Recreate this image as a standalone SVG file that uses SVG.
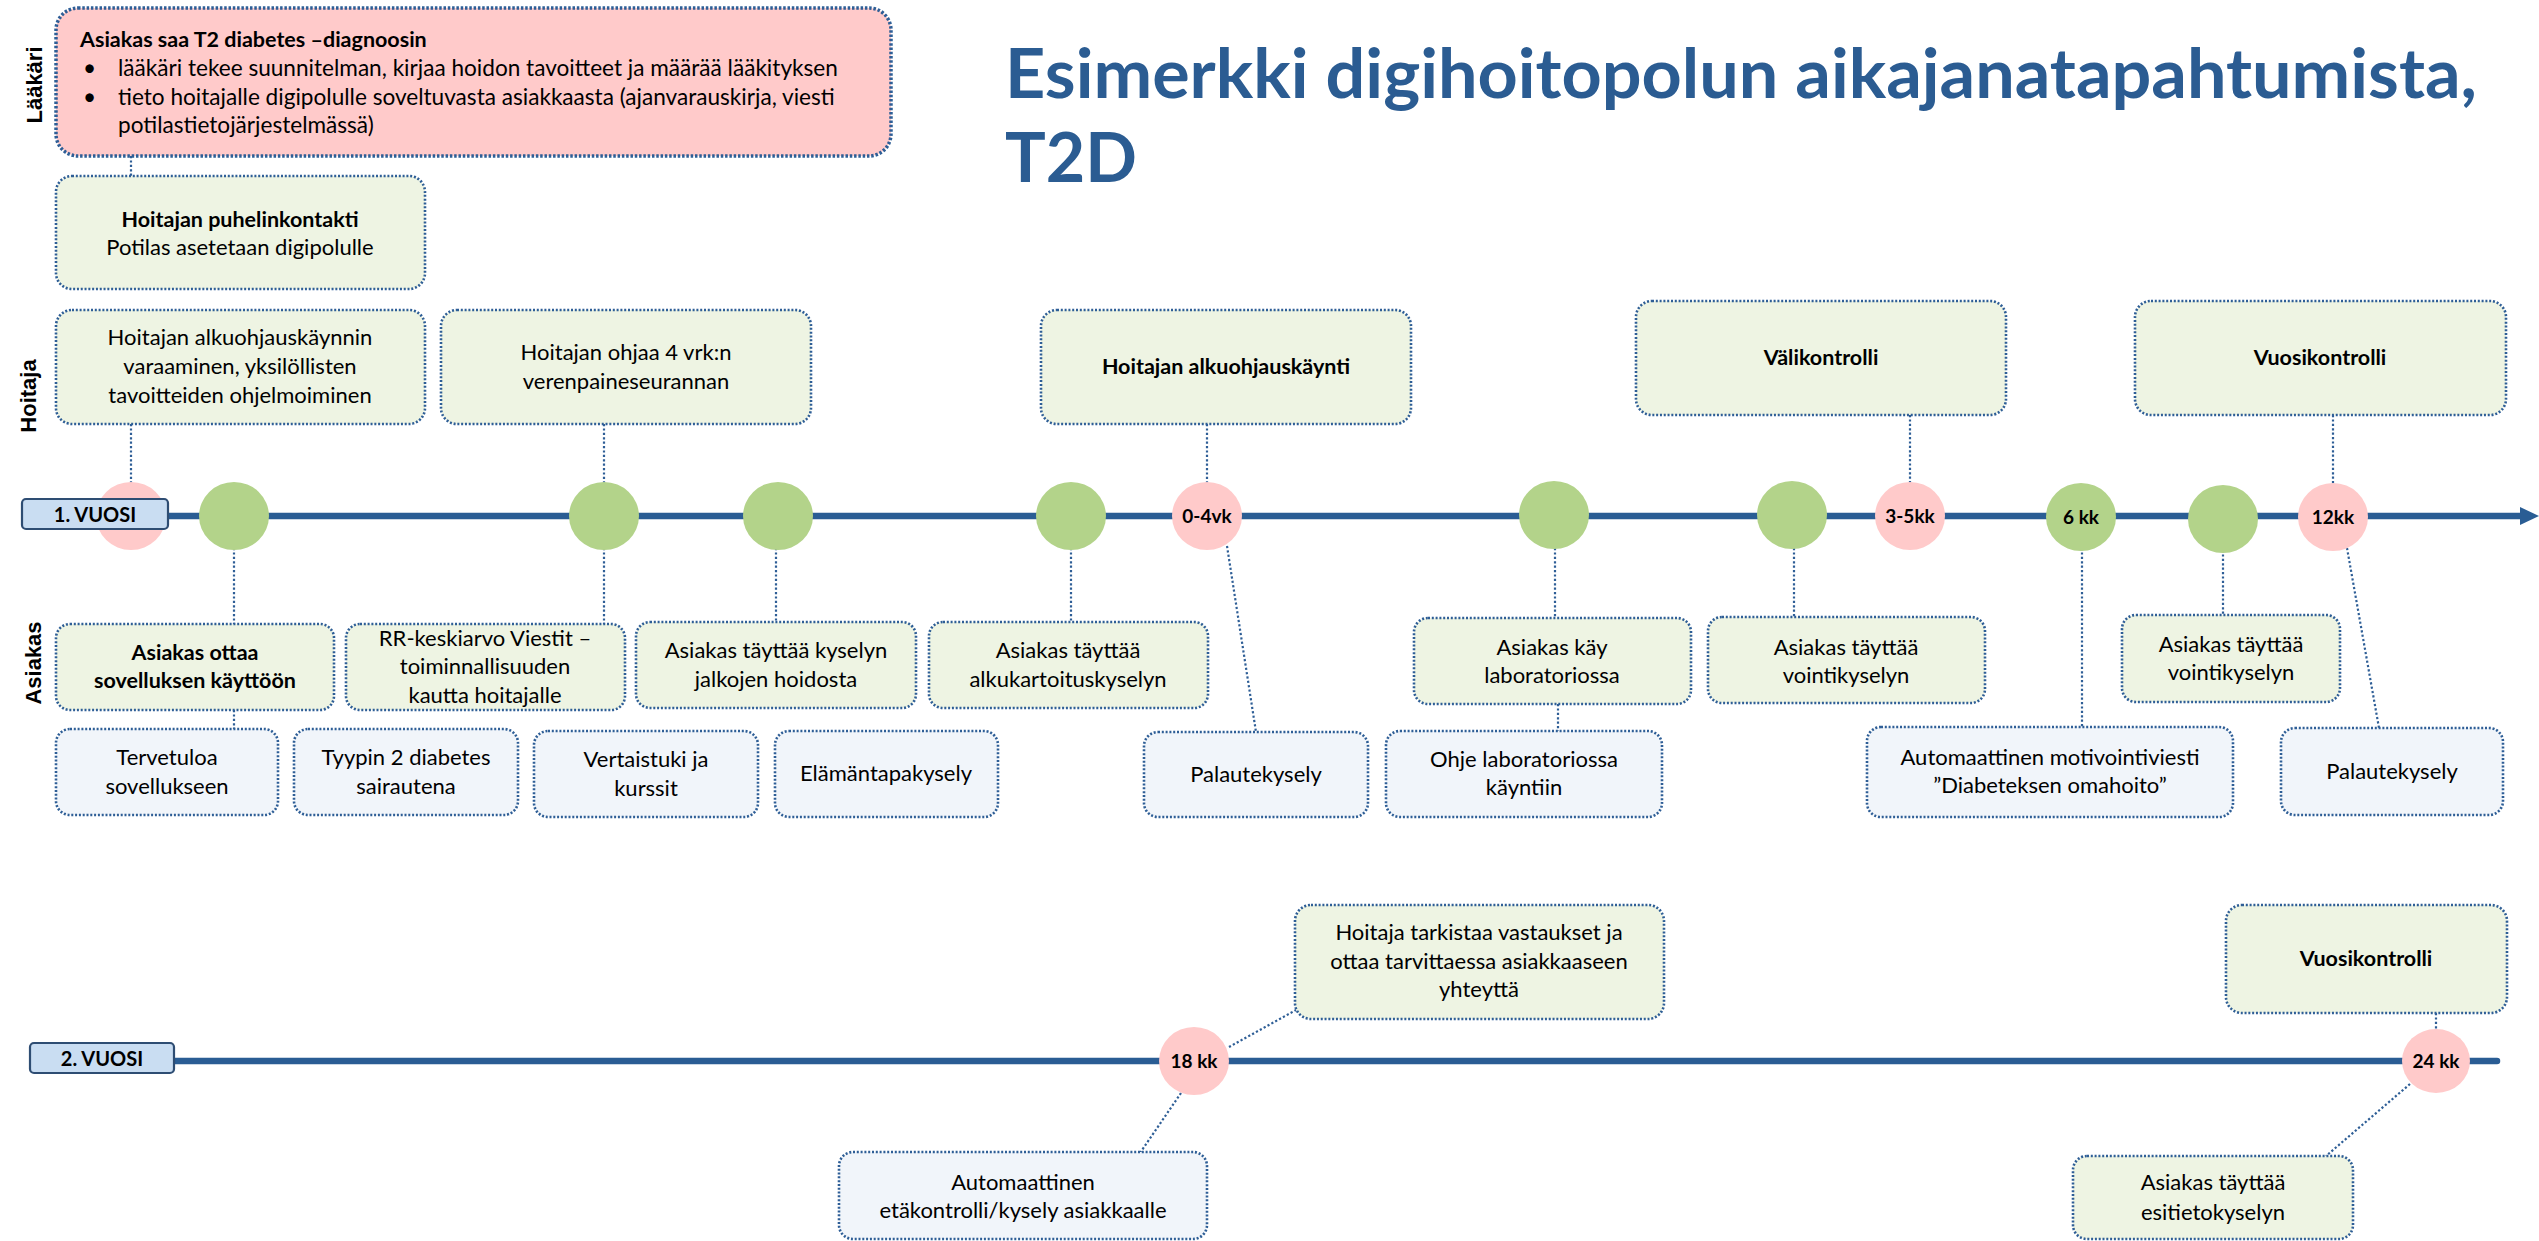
<svg xmlns="http://www.w3.org/2000/svg" width="2539" height="1241" viewBox="0 0 2539 1241">
<style>
.bg{fill:#FFFFFF}
.g{fill:#EEF4E3;stroke:#2E5E96;stroke-width:2.6;stroke-dasharray:2 1.8}
.b{fill:#F1F5FA;stroke:#2E5E96;stroke-width:2.6;stroke-dasharray:2 1.8}
.p{fill:#FFCACA;stroke:#2E5E96;stroke-width:3.5;stroke-dasharray:2.5 1.8}
.c{fill:none;stroke:#2E5E96;stroke-width:2.2;stroke-dasharray:2.2 2.2}
.tl{stroke:#2A5D94;stroke-width:6.5;fill:none}
.cg{fill:#B3D38A}
.cp{fill:#FFCACA}
.lab{fill:#C9DDF2;stroke:#2E4D73;stroke-width:2.2}
.t{font-family:Lato,"Liberation Sans",sans-serif;font-size:22px;fill:#000;text-anchor:middle}
.tb{font-family:Lato,"Liberation Sans",sans-serif;font-size:21.5px;fill:#000;text-anchor:middle;font-weight:bold}
.tl2{font-family:Lato,"Liberation Sans",sans-serif;font-size:22.6px;fill:#000}
.tl2b{font-family:Lato,"Liberation Sans",sans-serif;font-size:21.5px;fill:#000;font-weight:bold}
.m{font-family:Lato,"Liberation Sans",sans-serif;font-size:19px;fill:#000;text-anchor:middle;font-weight:bold}
.side{font-family:"Liberation Sans",Arial,sans-serif;font-size:22px;font-weight:bold;fill:#000;text-anchor:middle}
.title{font-family:Lato,"Liberation Sans",sans-serif;font-size:68px;font-weight:bold;fill:#2B5C92}
</style>
<rect class="bg" x="0" y="0" width="2539" height="1241"/>

<g id="title">
<text class="title" x="1005" y="98" textLength="1472" lengthAdjust="spacingAndGlyphs">Esimerkki digihoitopolun aikajanatapahtumista,</text>
<text class="title" x="1005" y="182">T2D</text>
</g>

<g id="lanes">
<text class="side" transform="translate(42,85) rotate(-90)">Lääkäri</text>
<text class="side" transform="translate(36,396) rotate(-90)">Hoitaja</text>
<text class="side" transform="translate(41,663) rotate(-90)">Asiakas</text>
</g>

<g id="connectors">
<line class="c" x1="131" y1="156" x2="131" y2="176"/>
<line class="c" x1="131" y1="424" x2="131" y2="484"/>
<line class="c" x1="604" y1="424" x2="604" y2="484"/>
<line class="c" x1="1207" y1="424" x2="1207" y2="484"/>
<line class="c" x1="1910" y1="415" x2="1910" y2="484"/>
<line class="c" x1="2333" y1="415" x2="2333" y2="484"/>
<line class="c" x1="234" y1="548" x2="234" y2="624"/>
<line class="c" x1="234" y1="710" x2="234" y2="729"/>
<line class="c" x1="604" y1="548" x2="604" y2="624"/>
<line class="c" x1="776" y1="548" x2="776" y2="622"/>
<line class="c" x1="1071" y1="548" x2="1071" y2="622"/>
<line class="c" x1="1227" y1="546" x2="1256" y2="732"/>
<line class="c" x1="1555" y1="548" x2="1555" y2="618"/>
<line class="c" x1="1558" y1="704" x2="1558" y2="731"/>
<line class="c" x1="1794" y1="548" x2="1794" y2="617"/>
<line class="c" x1="2082" y1="548" x2="2082" y2="727"/>
<line class="c" x1="2223" y1="550" x2="2223" y2="615"/>
<line class="c" x1="2347" y1="548" x2="2379" y2="728"/>
<line class="c" x1="1229" y1="1047" x2="1296" y2="1010"/>
<line class="c" x1="1181" y1="1093" x2="1140" y2="1153"/>
<line class="c" x1="2436" y1="1013" x2="2436" y2="1031"/>
<line class="c" x1="2410" y1="1084" x2="2326" y2="1156"/>
</g>

<g id="timeline1">
<line class="tl" x1="150" y1="516" x2="2523" y2="516"/>
<polygon points="2520,507 2539,516 2520,525" fill="#2A5D94"/>
</g>
<g id="timeline2">
<line class="tl" x1="160" y1="1061" x2="2497" y2="1061" stroke-linecap="round"/>
</g>

<g id="m_start"><ellipse class="cp" cx="131" cy="516" rx="35" ry="34"/></g>
<g id="label1"><rect class="lab" x="22" y="499" width="146" height="30" rx="4"/><text class="m" x="95" y="522" style="font-size:20px">1. VUOSI</text></g>
<g id="m_g1"><ellipse class="cg" cx="234" cy="516" rx="35" ry="34"/></g>
<g id="m_g2"><ellipse class="cg" cx="604" cy="516" rx="35" ry="34"/></g>
<g id="m_g3"><ellipse class="cg" cx="778" cy="516" rx="35" ry="34"/></g>
<g id="m_g4"><ellipse class="cg" cx="1071" cy="516" rx="35" ry="34"/></g>
<g id="m_04vk"><ellipse class="cp" cx="1207" cy="516" rx="35" ry="34"/><text class="m" x="1207" y="523">0-4vk</text></g>
<g id="m_g5"><ellipse class="cg" cx="1554" cy="515" rx="35" ry="34"/></g>
<g id="m_g6"><ellipse class="cg" cx="1792" cy="515" rx="35" ry="34"/></g>
<g id="m_35kk"><ellipse class="cp" cx="1910" cy="516" rx="35" ry="34"/><text class="m" x="1910" y="523">3-5kk</text></g>
<g id="m_6kk"><ellipse class="cg" cx="2081" cy="517" rx="35" ry="34"/><text class="m" x="2081" y="524">6 kk</text></g>
<g id="m_g7"><ellipse class="cg" cx="2223" cy="519" rx="35" ry="34"/></g>
<g id="m_12kk"><ellipse class="cp" cx="2333" cy="517" rx="35" ry="34"/><text class="m" x="2333" y="524">12kk</text></g>

<g id="label2"><rect class="lab" x="30" y="1043" width="144" height="30" rx="4"/><text class="m" x="102" y="1066" style="font-size:20px">2. VUOSI</text></g>
<g id="m_18kk"><ellipse class="cp" cx="1194" cy="1061" rx="35" ry="34"/><text class="m" x="1194" y="1068">18 kk</text></g>
<g id="m_24kk"><ellipse class="cp" cx="2436" cy="1061" rx="34" ry="32"/><text class="m" x="2436" y="1068">24 kk</text></g>

<g id="n_laakari">
<rect class="p" x="56" y="8" width="835" height="148" rx="22"/>
<text class="tl2b" x="80" y="47">Asiakas saa T2 diabetes –diagnoosin</text>
<text class="tl2" x="83" y="76">•</text><text class="tl2" x="118" y="76">lääkäri tekee suunnitelman, kirjaa hoidon tavoitteet ja määrää lääkityksen</text>
<text class="tl2" x="83" y="105">•</text><text class="tl2" x="118" y="105">tieto hoitajalle digipolulle soveltuvasta asiakkaasta (ajanvarauskirja, viesti</text>
<text class="tl2" x="118" y="133">potilastietojärjestelmässä)</text>
</g>

<g id="n_puhelin">
<rect class="g" x="56" y="176" width="369" height="113" rx="16"/>
<text class="tb" x="240" y="227">Hoitajan puhelinkontakti</text>
<text class="t" x="240" y="255">Potilas asetetaan digipolulle</text>
</g>

<g id="n_varaaminen">
<rect class="g" x="56" y="310" width="369" height="114" rx="16"/>
<text class="t" x="240" y="345">Hoitajan alkuohjauskäynnin</text>
<text class="t" x="240" y="374">varaaminen, yksilöllisten</text>
<text class="t" x="240" y="403">tavoitteiden ohjelmoiminen</text>
</g>

<g id="n_seuranta">
<rect class="g" x="441" y="310" width="370" height="114" rx="16"/>
<text class="t" x="626" y="360">Hoitajan ohjaa 4 vrk:n</text>
<text class="t" x="626" y="389">verenpaineseurannan</text>
</g>

<g id="n_alkuohjaus">
<rect class="g" x="1041" y="310" width="370" height="114" rx="16"/>
<text class="tb" x="1226" y="374">Hoitajan alkuohjauskäynti</text>
</g>

<g id="n_valikontrolli">
<rect class="g" x="1636" y="301" width="370" height="114" rx="16"/>
<text class="tb" x="1821" y="365">Välikontrolli</text>
</g>

<g id="n_vuosikontrolli1">
<rect class="g" x="2135" y="301" width="371" height="114" rx="16"/>
<text class="tb" x="2320" y="365">Vuosikontrolli</text>
</g>

<g id="n_sovellus">
<rect class="g" x="56" y="624" width="278" height="86" rx="14"/>
<text class="tb" x="195" y="660">Asiakas ottaa</text>
<text class="tb" x="195" y="688">sovelluksen käyttöön</text>
</g>

<g id="n_rr">
<rect class="g" x="346" y="624" width="279" height="86" rx="14"/>
<text class="t" x="485" y="646">RR-keskiarvo Viestit –</text>
<text class="t" x="485" y="674">toiminnallisuuden</text>
<text class="t" x="485" y="703">kautta hoitajalle</text>
</g>

<g id="n_jalat">
<rect class="g" x="636" y="622" width="280" height="86" rx="14"/>
<text class="t" x="776" y="658">Asiakas täyttää kyselyn</text>
<text class="t" x="776" y="687">jalkojen hoidosta</text>
</g>

<g id="n_alkukartoitus">
<rect class="g" x="929" y="622" width="279" height="86" rx="14"/>
<text class="t" x="1068" y="658">Asiakas täyttää</text>
<text class="t" x="1068" y="687">alkukartoituskyselyn</text>
</g>

<g id="n_lab">
<rect class="g" x="1414" y="618" width="277" height="86" rx="14"/>
<text class="t" x="1552" y="655">Asiakas käy</text>
<text class="t" x="1552" y="683">laboratoriossa</text>
</g>

<g id="n_vointi1">
<rect class="g" x="1708" y="617" width="277" height="86" rx="14"/>
<text class="t" x="1846" y="655">Asiakas täyttää</text>
<text class="t" x="1846" y="683">vointikyselyn</text>
</g>

<g id="n_vointi2">
<rect class="g" x="2122" y="615" width="218" height="87" rx="14"/>
<text class="t" x="2231" y="652">Asiakas täyttää</text>
<text class="t" x="2231" y="680">vointikyselyn</text>
</g>

<g id="n_tervetuloa">
<rect class="b" x="56" y="729" width="222" height="86" rx="14"/>
<text class="t" x="167" y="765">Tervetuloa</text>
<text class="t" x="167" y="794">sovellukseen</text>
</g>

<g id="n_tyypin2">
<rect class="b" x="294" y="729" width="224" height="86" rx="14"/>
<text class="t" x="406" y="765">Tyypin 2 diabetes</text>
<text class="t" x="406" y="794">sairautena</text>
</g>

<g id="n_vertais">
<rect class="b" x="534" y="731" width="224" height="86" rx="14"/>
<text class="t" x="646" y="767">Vertaistuki ja</text>
<text class="t" x="646" y="796">kurssit</text>
</g>

<g id="n_elamantapa">
<rect class="b" x="775" y="731" width="223" height="86" rx="14"/>
<text class="t" x="886" y="781">Elämäntapakysely</text>
</g>

<g id="n_palaute1">
<rect class="b" x="1144" y="732" width="224" height="85" rx="14"/>
<text class="t" x="1256" y="782">Palautekysely</text>
</g>

<g id="n_ohje">
<rect class="b" x="1386" y="731" width="276" height="86" rx="14"/>
<text class="t" x="1524" y="767">Ohje laboratoriossa</text>
<text class="t" x="1524" y="795">käyntiin</text>
</g>

<g id="n_motivointi">
<rect class="b" x="1867" y="727" width="366" height="90" rx="14"/>
<text class="t" x="2050" y="765">Automaattinen motivointiviesti</text>
<text class="t" x="2050" y="793">”Diabeteksen omahoito”</text>
</g>

<g id="n_palaute2">
<rect class="b" x="2281" y="728" width="222" height="87" rx="14"/>
<text class="t" x="2392" y="779">Palautekysely</text>
</g>

<g id="n_tarkistaa">
<rect class="g" x="1295" y="905" width="369" height="114" rx="16"/>
<text class="t" x="1479" y="940">Hoitaja tarkistaa vastaukset ja</text>
<text class="t" x="1479" y="969">ottaa tarvittaessa asiakkaaseen</text>
<text class="t" x="1479" y="997">yhteyttä</text>
</g>

<g id="n_vuosikontrolli2">
<rect class="g" x="2226" y="905" width="281" height="108" rx="16"/>
<text class="tb" x="2366" y="966">Vuosikontrolli</text>
</g>

<g id="n_etakontrolli">
<rect class="b" x="839" y="1152" width="368" height="87" rx="14"/>
<text class="t" x="1023" y="1190">Automaattinen</text>
<text class="t" x="1023" y="1218">etäkontrolli/kysely asiakkaalle</text>
</g>

<g id="n_esitieto">
<rect class="g" x="2073" y="1156" width="280" height="83" rx="14"/>
<text class="t" x="2213" y="1190">Asiakas täyttää</text>
<text class="t" x="2213" y="1220">esitietokyselyn</text>
</g>
</svg>
